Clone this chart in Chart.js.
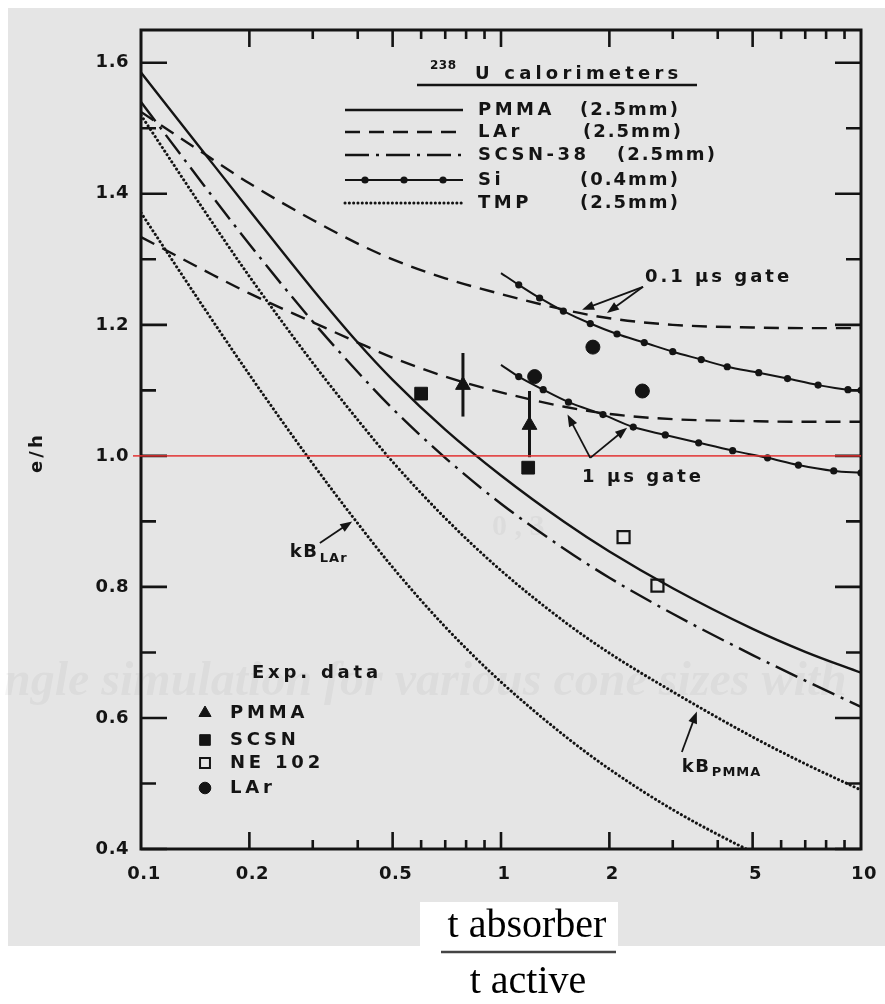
<!DOCTYPE html>
<html>
<head>
<meta charset="utf-8">
<script src="https://cdn.jsdelivr.net/npm/chart.js@4/dist/chart.umd.min.js"></script>
<style>
  html, body { margin: 0; padding: 0; background: #fff; }
  #wrap { width: 885px; height: 1004px; }
</style>
</head>
<body>
<div id="wrap"><canvas id="chart" width="885" height="1004"></canvas></div>
<script>
// x: t_absorber / t_active, y: e/h
const X_GRID = [0.1, 0.15, 0.2, 0.3, 0.4, 0.5, 0.7, 1, 1.5, 2, 3, 5, 7, 10];

const PMMA_CURVE = [1.585, 1.462, 1.375, 1.254, 1.173, 1.116, 1.04, 0.97, 0.899, 0.854, 0.798, 0.736, 0.701, 0.669];
const LAR_FAST = [1.525, 1.461, 1.416, 1.36, 1.324, 1.3, 1.271, 1.247, 1.223, 1.21, 1.2, 1.196, 1.195, 1.195];
const LAR_SLOW = [1.334, 1.283, 1.248, 1.204, 1.173, 1.15, 1.121, 1.097, 1.075, 1.064, 1.056, 1.053, 1.052, 1.052];
const SCSN_CURVE = [1.54, 1.412, 1.323, 1.205, 1.128, 1.072, 0.997, 0.927, 0.858, 0.814, 0.759, 0.696, 0.657, 0.617];
const TMP_KB_PMMA = [1.52, 1.374, 1.274, 1.142, 1.055, 0.991, 0.905, 0.825, 0.747, 0.699, 0.64, 0.571, 0.53, 0.49];
const TMP_KB_LAR = [1.371, 1.225, 1.124, 0.988, 0.897, 0.83, 0.739, 0.655, 0.573, 0.522, 0.46, 0.395, 0.357, 0.32];

// Si (0.4mm) curves, one dot per computed point
const SI_FAST_X = [1.0, 1.12, 1.28, 1.49, 1.77, 2.1, 2.5, 3.0, 3.6, 4.25, 5.2, 6.25, 7.6, 9.2, 10];
const SI_FAST_Y = [1.279, 1.261, 1.241, 1.221, 1.202, 1.186, 1.173, 1.159, 1.147, 1.136, 1.127, 1.118, 1.108, 1.101, 1.1];
const SI_SLOW_X = [1.0, 1.12, 1.31, 1.54, 1.92, 2.33, 2.86, 3.54, 4.4, 5.5, 6.7, 8.4, 10];
const SI_SLOW_Y = [1.139, 1.121, 1.101, 1.082, 1.063, 1.044, 1.032, 1.02, 1.008, 0.997, 0.986, 0.977, 0.974];

// measurements
const EXP_PMMA_X = [0.784, 1.2];
const EXP_PMMA_Y = [1.108, 1.047];
const EXP_PMMA_LO = [1.06, 0.998];
const EXP_PMMA_HI = [1.157, 1.099];
const EXP_SCSN_X = [0.6, 1.19];
const EXP_SCSN_Y = [1.095, 0.982];
const EXP_NE102_X = [2.19, 2.72];
const EXP_NE102_Y = [0.876, 0.802];
const EXP_LAR_X = [1.24, 1.8, 2.47];
const EXP_LAR_Y = [1.121, 1.166, 1.099];

const Y_MAJOR = [0.4, 0.6, 0.8, 1.0, 1.2, 1.4, 1.6];
const Y_LABELS = ["0.4", "0.6", "0.8", "1.0", "1.2", "1.4", "1.6"];
const Y_MINOR = [0.5, 0.7, 0.9, 1.1, 1.3, 1.5];
const X_MAJOR = [0.2, 0.5, 1, 2, 5];
const X_LABELS = ["0.1", "0.2", "0.5", "1", "2", "5", "10"];
const X_LABEL_AT = [0.1, 0.2, 0.5, 1, 2, 5, 10];
const X_MINOR = [0.3, 0.4, 0.6, 0.7, 0.8, 0.9, 3, 4, 6, 7, 8, 9];

const INK = "#141414";
const PAPER = "#e5e5e5";
const BOLD = "bold 18px 'DejaVu Sans'";

const pts = (xs, ys) => xs.map((x, i) => ({ x: x, y: ys[i] }));

function curve(label, ys, dash, extra) {
  return Object.assign({
    label: label,
    data: pts(X_GRID, ys),
    borderColor: INK,
    borderWidth: 2.4,
    borderDash: dash,
    pointRadius: 0,
    cubicInterpolationMode: "monotone",
    fill: false,
  }, extra || {});
}

function siCurve(label, xs, ys) {
  return {
    label: label,
    data: pts(xs, ys),
    borderColor: INK,
    borderWidth: 2,
    pointRadius: xs.map((x, i) => (i === 0 ? 0 : 3.6)),
    pointBackgroundColor: INK,
    pointBorderWidth: 0,
    cubicInterpolationMode: "monotone",
    fill: false,
  };
}

function markers(label, xs, ys, style, radius, filled) {
  return {
    label: label,
    data: pts(xs, ys),
    showLine: false,
    pointStyle: style,
    pointRadius: radius,
    pointBackgroundColor: filled ? INK : "rgba(0,0,0,0)",
    pointBorderColor: INK,
    pointBorderWidth: filled ? 1 : 2.2,
  };
}

const DOTS = { borderDash: [0.1, 4.2], borderCapStyle: "round", borderWidth: 3 };

function arrow(ctx, x1, y1, x2, y2) {
  const a = Math.atan2(y2 - y1, x2 - x1);
  const c = Math.cos(a), s = Math.sin(a);
  ctx.beginPath();
  ctx.moveTo(x1, y1);
  ctx.lineTo(x2 - 8 * c, y2 - 8 * s);
  ctx.stroke();
  ctx.beginPath();
  ctx.moveTo(x2, y2);
  ctx.lineTo(x2 - 12 * c + 4.5 * s, y2 - 12 * s - 4.5 * c);
  ctx.lineTo(x2 - 12 * c - 4.5 * s, y2 - 12 * s + 4.5 * c);
  ctx.closePath();
  ctx.fill();
}

function text(ctx, str, x, y, align, spacing, font) {
  ctx.font = font || BOLD;
  ctx.letterSpacing = (spacing === undefined ? 3.5 : spacing) + "px";
  ctx.textAlign = align || "left";
  ctx.textBaseline = "middle";
  ctx.fillText(str, x, y);
  ctx.letterSpacing = "0px";
}

const paperPlugin = {
  id: "paper",
  beforeDraw(chart) {
    const ctx = chart.ctx;
    ctx.save();
    ctx.fillStyle = "#fff";
    ctx.fillRect(0, 0, chart.width, chart.height);
    ctx.fillStyle = PAPER;
    ctx.fillRect(8, 8, chart.width - 8, 938);
    // show-through from the reverse side of the sheet
    ctx.fillStyle = "rgba(0,0,0,0.04)";
    ctx.font = "italic bold 48px 'Liberation Serif'";
    ctx.textBaseline = "middle";
    ctx.fillText("ngle simulation for various cone sizes with", 4, 683);
    ctx.font = "bold 30px 'Liberation Serif'";
    ctx.fillText("0 , 3", 492, 527);
    ctx.restore();
  },
};

const framePlugin = {
  id: "frame",
  afterDatasetsDraw(chart) {
    const ctx = chart.ctx;
    const { left, right, top, bottom } = chart.chartArea;
    const xs = chart.scales.x, ys = chart.scales.y;
    const px = (v) => xs.getPixelForValue(v);
    const py = (v) => ys.getPixelForValue(v);
    ctx.save();
    ctx.strokeStyle = INK;
    ctx.fillStyle = INK;
    ctx.lineCap = "butt";

    // error bars of the PMMA points
    ctx.lineWidth = 3;
    EXP_PMMA_X.forEach((x, i) => {
      ctx.beginPath();
      ctx.moveTo(px(x), py(EXP_PMMA_LO[i]));
      ctx.lineTo(px(x), py(EXP_PMMA_HI[i]));
      ctx.stroke();
    });

    // frame and ticks on all four sides
    ctx.lineWidth = 3;
    ctx.strokeRect(left, top, right - left, bottom - top);
    ctx.lineWidth = 2.6;
    const vTick = (v, len) => {
      const y = py(v);
      ctx.beginPath();
      ctx.moveTo(left, y); ctx.lineTo(left + len, y);
      ctx.moveTo(right, y); ctx.lineTo(right - len, y);
      ctx.stroke();
    };
    const hTick = (v, len) => {
      const x = px(v);
      ctx.beginPath();
      ctx.moveTo(x, bottom); ctx.lineTo(x, bottom - len);
      ctx.moveTo(x, top); ctx.lineTo(x, top + len);
      ctx.stroke();
    };
    Y_MAJOR.forEach((v) => vTick(v, 26));
    Y_MINOR.forEach((v) => vTick(v, 15));
    X_MAJOR.forEach((v) => hTick(v, 17));
    X_MINOR.forEach((v) => hTick(v, 9));

    Y_MAJOR.forEach((v, i) => text(ctx, Y_LABELS[i], left - 12, py(v), "right", 0.5));
    X_LABEL_AT.forEach((v, i) => text(ctx, X_LABELS[i], px(v) + 3, bottom + 25, "center", 0.5));

    ctx.save();
    ctx.translate(37, py(1.005));
    ctx.rotate(-Math.PI / 2);
    text(ctx, "e/h", 0, 0, "center", 3);
    ctx.restore();

    // e/h = 1 reference
    ctx.strokeStyle = "rgba(226,48,48,0.85)";
    ctx.lineWidth = 1.6;
    ctx.beginPath();
    ctx.moveTo(left - 8, py(1));
    ctx.lineTo(right, py(1));
    ctx.stroke();
    ctx.strokeStyle = INK;

    // curve annotations
    ctx.lineWidth = 1.8;
    text(ctx, "0.1 µs gate", px(2.51), py(1.273), "left", 3);
    arrow(ctx, px(2.48), py(1.258), px(1.68), py(1.223));
    arrow(ctx, px(2.48), py(1.258), px(1.97), py(1.218));
    text(ctx, "1 µs gate", px(1.68), py(0.968), "left", 3);
    arrow(ctx, px(1.77), py(0.997), px(1.53), py(1.063));
    arrow(ctx, px(1.77), py(0.997), px(2.24), py(1.043));

    text(ctx, "kB", px(0.259), py(0.853), "left", 1.5);
    text(ctx, "LAr", px(0.259) + 30, py(0.853) + 6, "left", 1, "bold 13px 'DejaVu Sans'");
    arrow(ctx, px(0.314), py(0.867), px(0.386), py(0.9));
    text(ctx, "kB", px(3.18), py(0.525), "left", 1.5);
    text(ctx, "PMMA", px(3.18) + 30, py(0.525) + 6, "left", 1, "bold 13px 'DejaVu Sans'");
    arrow(ctx, px(3.18), py(0.548), px(3.5), py(0.61));

    // line-style key
    text(ctx, "238", 430, 66, "left", 0.5, "bold 12px 'DejaVu Sans'");
    text(ctx, "U calorimeters", 475, 74, "left", 4.2);
    ctx.lineWidth = 2.6;
    ctx.beginPath();
    ctx.moveTo(417, 85); ctx.lineTo(697, 85);
    ctx.stroke();

    const rows = [
      { y: 110, name: "PMMA", size: "(2.5mm)", sx: 580, dash: [], w: 2.4 },
      { y: 132, name: "LAr", size: "(2.5mm)", sx: 583, dash: [15, 9], w: 2.4 },
      { y: 155, name: "SCSN-38", size: "(2.5mm)", sx: 617, dash: [24, 7, 3, 7], w: 2.4 },
      { y: 180, name: "Si", size: "(0.4mm)", sx: 580, dash: [], w: 2 },
      { y: 203, name: "TMP", size: "(2.5mm)", sx: 580, dash: [0.1, 4.2], w: 3, round: true },
    ];
    rows.forEach((r) => {
      ctx.save();
      ctx.lineWidth = r.w;
      ctx.setLineDash(r.dash);
      ctx.lineCap = r.round ? "round" : "butt";
      ctx.beginPath();
      ctx.moveTo(345, r.y); ctx.lineTo(463, r.y);
      ctx.stroke();
      ctx.restore();
      if (r.name === "Si") {
        [365, 404, 443].forEach((x) => {
          ctx.beginPath(); ctx.arc(x, r.y, 3.6, 0, Math.PI * 2); ctx.fill();
        });
      }
      text(ctx, r.name, 478, r.y, "left", 3.5);
      text(ctx, r.size, r.sx, r.y, "left", 2);
    });

    // measurement key
    text(ctx, "Exp. data", 252, 673, "left", 3.8);
    const keys = [
      { y: 713, name: "PMMA", style: "triangle", r: 7, filled: true },
      { y: 740, name: "SCSN", style: "rect", r: 7.5, filled: true },
      { y: 763, name: "NE 102", style: "rect", r: 7, filled: false },
      { y: 788, name: "LAr", style: "circle", r: 5.8, filled: true },
    ];
    keys.forEach((k) => {
      ctx.fillStyle = k.filled ? INK : "rgba(0,0,0,0)";
      ctx.lineWidth = k.filled ? 1 : 2;
      Chart.helpers.drawPoint(ctx, { pointStyle: k.style, radius: k.r, rotation: 0, borderWidth: ctx.lineWidth }, 205, k.y);
      ctx.fillStyle = INK;
      text(ctx, k.name, 230, k.y, "left", 3.8);
    });

    // axis title as a fraction below the plot
    ctx.fillStyle = "#fff";
    ctx.fillRect(420, 902, 198, 44);
    ctx.fillStyle = "#000";
    text(ctx, "t absorber", 527, 926, "center", 0, "40px 'Liberation Serif'");
    text(ctx, "t active", 528, 982, "center", 0, "40px 'Liberation Serif'");
    ctx.strokeStyle = "#444";
    ctx.lineWidth = 2.5;
    ctx.beginPath();
    ctx.moveTo(441, 952); ctx.lineTo(616, 952);
    ctx.stroke();
    ctx.restore();
  },
};

new Chart(document.getElementById("chart"), {
  type: "line",
  data: {
    datasets: [
      curve("PMMA (2.5mm)", PMMA_CURVE, []),
      curve("LAr (2.5mm) 0.1 µs", LAR_FAST, [15, 9]),
      curve("LAr (2.5mm) 1 µs", LAR_SLOW, [15, 9]),
      curve("SCSN-38 (2.5mm)", SCSN_CURVE, [24, 7, 3, 7]),
      curve("TMP kB PMMA", TMP_KB_PMMA, [], DOTS),
      curve("TMP kB LAr", TMP_KB_LAR, [], DOTS),
      siCurve("Si 0.1 µs", SI_FAST_X, SI_FAST_Y),
      siCurve("Si 1 µs", SI_SLOW_X, SI_SLOW_Y),
      markers("PMMA", EXP_PMMA_X, EXP_PMMA_Y, "triangle", 8.5, true),
      markers("SCSN", EXP_SCSN_X, EXP_SCSN_Y, "rect", 9, true),
      markers("NE 102", EXP_NE102_X, EXP_NE102_Y, "rect", 8.5, false),
      markers("LAr", EXP_LAR_X, EXP_LAR_Y, "circle", 7, true),
    ],
  },
  options: {
    responsive: false,
    animation: false,
    events: [],
    layout: { padding: { left: 141, right: 24, top: 30, bottom: 155 } },
    plugins: { legend: { display: false }, tooltip: { enabled: false } },
    scales: {
      x: { type: "logarithmic", min: 0.1, max: 10, display: false },
      y: { type: "linear", min: 0.4, max: 1.65, display: false },
    },
  },
  plugins: [paperPlugin, framePlugin],
});
</script>
</body>
</html>
